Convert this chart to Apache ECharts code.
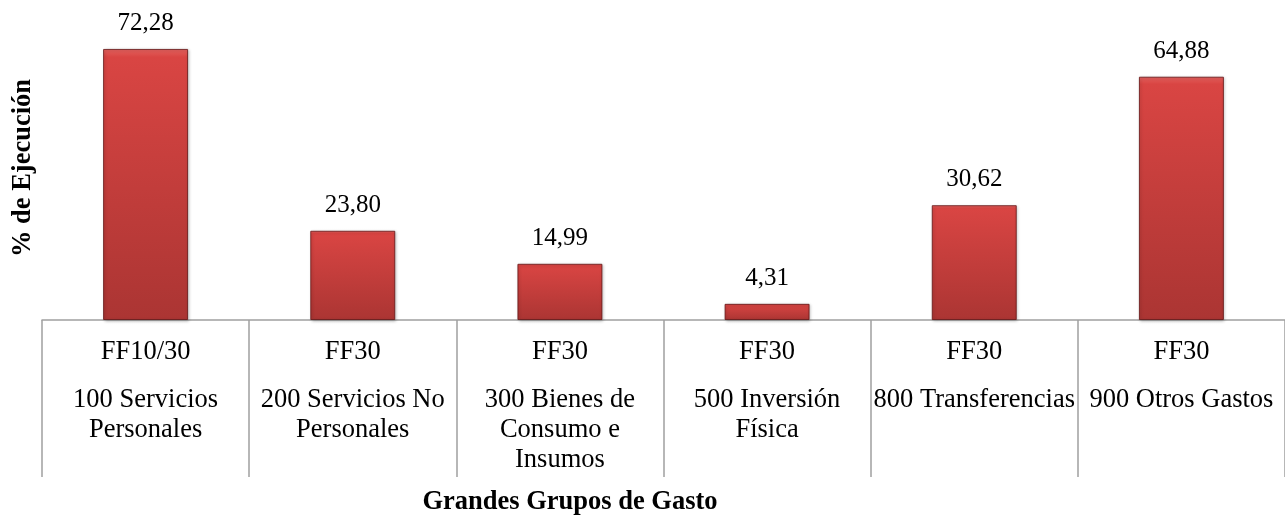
<!DOCTYPE html>
<html>
<head>
<meta charset="utf-8">
<script src="https://cdn.jsdelivr.net/npm/echarts@6/dist/echarts.min.js"></script>
<style>
  html, body { margin: 0; padding: 0; background: #fff; }
  #chart { width: 1285px; height: 517px; }
</style>
</head>
<body>
<div id="chart"></div>
<script>
// fuente de financiamiento + grupo de gasto
const fuentes = ['FF10/30', 'FF30', 'FF30', 'FF30', 'FF30', 'FF30'];
const grupos = [
  '100 Servicios\nPersonales',
  '200 Servicios No\nPersonales',
  '300 Bienes de\nConsumo e\nInsumos',
  '500 Inversión\nFísica',
  '800 Transferencias',
  '900 Otros Gastos'
];
const ejecucion = [72.28, 23.80, 14.99, 4.31, 30.62, 64.88];

const serif = '"Liberation Serif", "Times New Roman", serif';

const chart = echarts.init(document.getElementById('chart'), null, { renderer: 'canvas' });

const option = {
  animation: false,
  backgroundColor: '#fff',
  grid: {
    left: 42,
    width: 1248,
    top: 20,
    bottom: 197
  },
  xAxis: {
    type: 'category',
    data: fuentes.map(function (f, i) { return f + '|' + grupos[i]; }),
    axisLine: { show: true, lineStyle: { color: '#a0a0a0', width: 1.5 } },
    axisTick: {
      show: true,
      alignWithLabel: false,
      interval: 0,
      length: 157,
      lineStyle: { color: '#a0a0a0', width: 1.5 }
    },
    axisLabel: {
      interval: 0,
      margin: 17,
      formatter: function (v) {
        const parts = v.split('|');
        const lines = parts[1].split('\n').map(function (l) { return '{b|' + l + '}'; });
        return '{a|' + parts[0] + '}\n{s| }\n' + lines.join('\n');
      },
      rich: {
        a: { fontFamily: serif, fontSize: 26.5, lineHeight: 30, color: '#000' },
        s: { fontSize: 10, lineHeight: 18 },
        b: { fontFamily: serif, fontSize: 26.5, lineHeight: 30, color: '#000' }
      }
    }
  },
  yAxis: {
    type: 'value',
    show: false,
    min: 0,
    max: 80
  },
  graphic: [
    {
      type: 'text',
      x: 23,
      y: 168,
      rotation: Math.PI / 2,
      style: {
        text: '% de Ejecución',
        font: 'bold 26.5px ' + serif,
        fill: '#000',
        align: 'center',
        verticalAlign: 'middle'
      }
    },
    {
      type: 'text',
      x: 570,
      y: 502,
      style: {
        text: 'Grandes Grupos de Gasto',
        font: 'bold 26.5px ' + serif,
        fill: '#000',
        align: 'center',
        verticalAlign: 'middle'
      }
    }
  ],
  series: [
    {
      type: 'bar',
      data: ejecucion,
      barWidth: 85,
      itemStyle: {
        color: new echarts.graphic.LinearGradient(0, 0, 0, 1, [
          { offset: 0, color: '#e4625f' },
          { offset: 0.03, color: '#d94543' },
          { offset: 1, color: '#ab3533' }
        ]),
        borderColor: 'rgba(100,20,20,0.8)',
        borderWidth: 1,
        shadowColor: 'rgba(0,0,0,0.25)',
        shadowBlur: 3,
        shadowOffsetX: 1,
        shadowOffsetY: 1
      },
      label: {
        show: true,
        position: 'top',
        distance: 13,
        fontFamily: serif,
        fontSize: 25,
        color: '#000',
        formatter: function (p) { return p.value.toFixed(2).replace('.', ','); }
      }
    }
  ]
};

chart.setOption(option);
</script>
</body>
</html>
